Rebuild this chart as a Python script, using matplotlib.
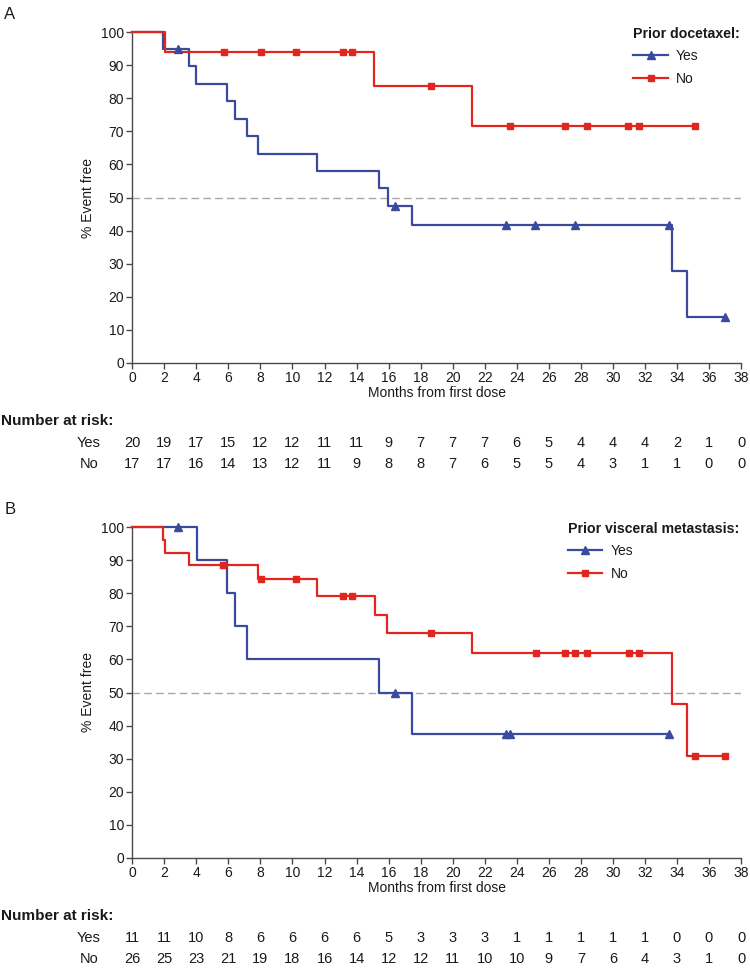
import numpy as np
import matplotlib
matplotlib.use('Agg')
import matplotlib.pyplot as plt
from matplotlib.transforms import blended_transform_factory
from matplotlib.lines import Line2D

plt.rcParams['font.family'] = ['Liberation Sans', 'DejaVu Sans']

# ---------------- data ----------------
month_ticks = list(range(0, 39, 2))
pct_ticks = list(range(0, 101, 10))

# Panel A: prior docetaxel
a_yes_times = [0, 1.94, 3.54, 4.0, 5.93, 6.41, 7.16, 7.82, 11.5, 15.39, 15.97, 17.47, 33.67, 34.65, 37.0]
a_yes_surv = [100, 95.0, 89.7, 84.4, 79.2, 73.9, 68.6, 63.3, 58.1, 52.8, 47.5, 41.6, 27.7, 13.9, 13.9]
a_yes_cens = [2.83, 16.4, 23.31, 25.16, 27.64, 33.5, 37.0]

a_no_times = [0, 2.04, 15.08, 21.23, 35.15]
a_no_surv = [100, 94.1, 83.7, 71.7, 71.7]
a_no_cens = [5.75, 8.03, 10.21, 13.16, 13.72, 18.67, 23.56, 26.99, 28.38, 30.97, 31.63, 35.15]

a_risk_yes = [20, 19, 17, 15, 12, 12, 11, 11, 9, 7, 7, 7, 6, 5, 4, 4, 4, 2, 1, 0]
a_risk_no = [17, 17, 16, 14, 13, 12, 11, 9, 8, 8, 7, 6, 5, 5, 4, 3, 1, 1, 0, 0]

# Panel B: prior visceral metastasis
b_yes_times = [0, 4.04, 5.93, 6.41, 7.16, 15.39, 17.47, 33.5]
b_yes_surv = [100, 90.0, 80.0, 70.0, 60.0, 50.0, 37.5, 37.5]
b_yes_cens = [2.85, 16.4, 23.3, 23.55, 33.5]

b_no_times = [0, 1.94, 2.04, 3.56, 7.84, 11.5, 15.14, 15.93, 21.23, 33.71, 34.65, 37.0]
b_no_surv = [100, 96.2, 92.3, 88.5, 84.3, 79.2, 73.6, 67.9, 61.9, 46.4, 30.9, 30.9]
b_no_cens = [5.68, 8.03, 10.21, 13.16, 13.72, 18.67, 25.18, 26.99, 27.64, 28.37, 30.99, 31.63, 35.1, 37.0]

b_risk_yes = [11, 11, 10, 8, 6, 6, 6, 6, 5, 3, 3, 3, 1, 1, 1, 1, 1, 0, 0, 0]
b_risk_no = [26, 25, 23, 21, 19, 18, 16, 14, 12, 12, 11, 10, 10, 9, 7, 6, 4, 3, 1, 0]

group_labels = ['Yes', 'No']
titles = ['Prior docetaxel:', 'Prior visceral metastasis:']

# ---------------- style ----------------
BLUE = '#3A4A9C'
RED = '#E1251F'
TXT = '#1a1a1a'
W, H = 750, 976


def fx(px):
    return px / W


def fy(py):
    return 1 - py / H


def step_value(t, times, surv):
    idx = np.searchsorted(times, t, side='right') - 1
    return np.asarray(surv)[idx]


fig = plt.figure(figsize=(7.5, 9.76), dpi=100)
fig.patch.set_facecolor('white')

ax_left, ax_right = 132.3, 741.0
ax_h = 330.4


def draw_panel(top_px, letter, yes, no, risks, title, legend_xy):
    bottom_px = top_px + ax_h
    ax = fig.add_axes([fx(ax_left), fy(bottom_px), (ax_right - ax_left) / W, ax_h / H])
    ax.set_xlim(0, 38)
    ax.set_ylim(0, 100)
    for s in ['top', 'right']:
        ax.spines[s].set_visible(False)
    for s in ['left', 'bottom']:
        ax.spines[s].set_color('#4a4a4a')
        ax.spines[s].set_linewidth(1.0)
    ax.set_xticks(month_ticks)
    ax.set_yticks(pct_ticks)
    ax.tick_params(direction='out', length=4, width=1, color='#4a4a4a',
                   labelsize=10, labelcolor=TXT, pad=2)

    ax.axhline(50, color='#a8a8a8', lw=1.0, dashes=(5.5, 3), zorder=1)

    handles = []
    for (times, surv, cens), color, marker, ms in zip(
            [yes, no], [BLUE, RED], ['^', 's'], [5.5, 4.0]):
        ax.step(times, surv, where='post', color=color, lw=1.6, zorder=3, clip_on=False)
        cy = [step_value(c, times, surv) for c in cens]
        ax.plot(cens, cy, ls='none', marker=marker, ms=ms, color=color,
                mec=color, zorder=4, clip_on=False)
        handles.append(Line2D([], [], color=color, lw=1.6, marker=marker, ms=ms))

    leg = ax.legend(handles, group_labels, title=title, loc='upper left',
                    bbox_to_anchor=(fx(legend_xy[0]), fy(legend_xy[1])),
                    bbox_transform=fig.transFigure, frameon=False, borderpad=0,
                    borderaxespad=0,
                    handlelength=2.5, handletextpad=0.58, labelspacing=0.6,
                    fontsize=10, numpoints=1, alignment='left',
                    title_fontproperties={'weight': 'bold', 'size': 10.2})
    for t in leg.get_texts():
        t.set_color(TXT)
    leg.get_title().set_color(TXT)

    ax.set_ylabel('% Event free', fontsize=10, color=TXT)
    ax.yaxis.set_label_coords(-(ax_left - 88) / (ax_right - ax_left), 0.5)
    ax.yaxis.label.set_va('center')
    ax.set_xlabel('Months from first dose', fontsize=10, color=TXT)
    ax.xaxis.set_label_coords(0.5, -30 / ax_h)
    ax.xaxis.label.set_va('center')

    fig.text(fx(10), fy(top_px - 18), letter, fontsize=12, color=TXT,
             ha='center', va='center')

    # number at risk table
    fig.text(fx(1), fy(bottom_px + 58), 'Number at risk:', fontsize=11,
             weight='bold', color=TXT, ha='left', va='center')
    tr = blended_transform_factory(ax.transData, fig.transFigure)
    for row, (lab, vals) in enumerate(zip(group_labels, risks)):
        ypx = bottom_px + 80 + 21 * row
        fig.text(fx(89), fy(ypx), lab, fontsize=10.5, color=TXT,
                 ha='center', va='center')
        for m, v in zip(month_ticks, vals):
            ax.text(m, fy(ypx), str(v), transform=tr, fontsize=10.5,
                    color=TXT, ha='center', va='center', clip_on=False)
    return ax


draw_panel(32.3, 'A',
           (a_yes_times, a_yes_surv, a_yes_cens),
           (a_no_times, a_no_surv, a_no_cens),
           (a_risk_yes, a_risk_no), titles[0], (633.3, 27))
draw_panel(527.3, 'B',
           (b_yes_times, b_yes_surv, b_yes_cens),
           (b_no_times, b_no_surv, b_no_cens),
           (b_risk_yes, b_risk_no), titles[1], (567.7, 522))

fig.savefig('out.png', dpi=100, facecolor='white')
